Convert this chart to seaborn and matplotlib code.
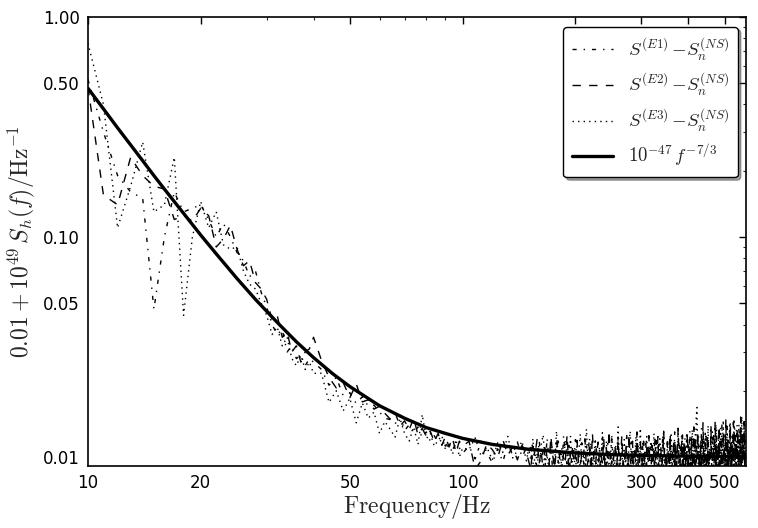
import numpy as np
import pandas as pd
import matplotlib
matplotlib.use('Agg')
import matplotlib.pyplot as plt
import seaborn as sns
from matplotlib.ticker import FixedLocator, FixedFormatter, LogLocator, NullFormatter

# frequency grids (Hz)
f_low = np.arange(10, 41, 1)
f_mid = np.arange(42, 101, 2)
f_high = np.arange(104, 150, 4)
f_dense = np.arange(150, 300, 2)
f_top = np.arange(300, 569, 2)

# S^(E1) - S_n^(NS) (mid/high/dense/top in units of 1e-4)
e1_low = [0.52, 0.30, 0.19, 0.16, 0.15, 0.047, 0.10, 0.16, 0.13, 0.135, 0.14, 0.12, 0.10, 0.115, 0.10, 0.085,
          0.078, 0.066, 0.070, 0.056, 0.048, 0.040, 0.036, 0.038, 0.030, 0.032, 0.028, 0.029, 0.026, 0.028, 0.027]
e1_mid = [250, 212, 230, 190, 196, 175, 188, 170, 172, 160, 150, 148, 141, 155, 132,
          140, 128, 137, 122, 130, 118, 125, 116, 120, 112, 119, 108, 115, 110, 104]
e1_high = [112, 98, 118, 105, 94, 109, 95, 114, 103, 117, 100, 110]
e1_dense = [101, 115, 92, 108, 87, 119, 99, 106, 90, 122, 97, 111, 86, 104, 117,
            94, 109, 88, 125, 100, 93, 113, 85, 107, 98, 120, 91, 103, 89, 116,
            96, 84, 112, 102, 123, 90, 99, 87, 118, 105, 92, 110, 86, 127, 97,
            104, 89, 115, 94, 83, 121, 100, 91, 108, 86, 124, 98, 93, 114, 88,
            106, 95, 129, 87, 101, 84, 117, 96, 90, 111, 85, 122, 99, 92, 109]
e1_top = [96, 112, 88, 104, 120, 91, 99, 85, 115, 102, 93, 108, 87, 124, 97,
          90, 106, 118, 86, 101, 95, 127, 89, 110, 98, 84, 116, 103, 92, 121,
          99, 87, 113, 94, 130, 88, 105, 96, 83, 119, 101, 91, 126, 86, 108,
          95, 122, 89, 103, 85, 117, 98, 132, 90, 107, 84, 114, 100, 93, 128,
          87, 111, 97, 124, 83, 106, 91, 136, 99, 88, 118, 94, 85, 129, 102,
          92, 121, 86, 109, 98, 140, 89, 104, 82, 125, 96, 113, 87, 134, 100,
          90, 117, 84, 128, 101, 93, 142, 88, 110, 97, 83, 131, 105, 91, 138,
          86, 119, 99, 82, 145, 94, 108, 89, 127, 102, 85, 136, 96, 114, 88,
          141, 93, 105, 84, 130, 98, 87, 148, 101, 90, 122, 95, 139, 86, 126]

# S^(E2) - S_n^(NS)
e2_low = [0.48, 0.155, 0.14, 0.23, 0.19, 0.17, 0.165, 0.12, 0.125, 0.118, 0.135, 0.125, 0.090, 0.098, 0.113, 0.088,
          0.074, 0.078, 0.062, 0.058, 0.052, 0.042, 0.044, 0.035, 0.037, 0.030, 0.032, 0.027, 0.030, 0.031, 0.035]
e2_mid = [275, 230, 206, 218, 186, 215, 178, 182, 165, 170, 158, 149, 160, 138, 146,
          133, 150, 126, 135, 124, 131, 117, 128, 113, 124, 111, 121, 105, 118, 112]
e2_high = [118, 88, 96, 115, 108, 99, 120, 102, 111, 97, 113, 104]
e2_dense = [96, 88, 112, 103, 120, 93, 107, 86, 115, 99, 91, 124, 101, 89, 110,
            118, 94, 85, 106, 97, 126, 90, 102, 113, 87, 99, 119, 92, 84, 108,
            100, 121, 89, 95, 111, 86, 128, 98, 91, 105, 117, 88, 103, 94, 122,
            85, 110, 99, 132, 90, 96, 84, 114, 107, 92, 120, 87, 101, 125, 95,
            89, 113, 104, 86, 127, 97, 91, 118, 84, 106, 99, 130, 93, 88, 115]
e2_top = [105, 89, 118, 95, 86, 110, 101, 125, 92, 84, 113, 98, 106, 88, 119,
          100, 124, 87, 96, 112, 85, 104, 131, 93, 99, 83, 117, 108, 90, 128,
          86, 103, 97, 121, 89, 114, 84, 107, 135, 95, 88, 111, 99, 126, 91,
          118, 85, 100, 94, 129, 87, 109, 96, 83, 123, 102, 90, 137, 97, 86,
          112, 98, 131, 84, 105, 92, 120, 88, 101, 143, 95, 86, 116, 103, 89,
          127, 93, 83, 110, 100, 134, 87, 97, 122, 85, 106, 146, 91, 99, 115,
          88, 104, 139, 94, 86, 118, 101, 83, 129, 96, 110, 89, 150, 98, 92,
          121, 85, 107, 97, 138, 90, 84, 116, 103, 144, 93, 87, 125, 99, 109,
          88, 133, 96, 84, 119, 105, 152, 91, 98, 127, 86, 111, 145, 94, 104]

# S^(E3) - S_n^(NS)
e3_low = [0.76, 0.40, 0.11, 0.17, 0.27, 0.13, 0.14, 0.23, 0.044, 0.10, 0.145, 0.11, 0.13, 0.092, 0.088, 0.090,
          0.070, 0.061, 0.058, 0.050, 0.044, 0.036, 0.039, 0.032, 0.035, 0.028, 0.026, 0.029, 0.025, 0.027, 0.024]
e3_mid = [240, 177, 200, 162, 185, 143, 176, 150, 160, 128, 145, 134, 123, 150, 128,
          118, 137, 114, 156, 121, 128, 112, 119, 125, 108, 116, 103, 120, 100, 110]
e3_high = [108, 122, 101, 111, 97, 116, 105, 124, 99, 107, 118, 96]
e3_dense = [109, 97, 121, 90, 104, 86, 113, 126, 95, 101, 88, 117, 106, 92, 131,
            99, 85, 110, 96, 119, 103, 89, 124, 94, 107, 84, 115, 100, 127, 91,
            87, 105, 134, 93, 98, 116, 88, 102, 121, 85, 96, 111, 90, 129, 104,
            92, 118, 86, 107, 99, 125, 95, 84, 113, 101, 137, 89, 97, 110, 86,
            120, 93, 103, 88, 116, 131, 94, 85, 108, 99, 124, 90, 112, 96, 135]
e3_top = [92, 115, 101, 87, 109, 124, 94, 99, 86, 118, 105, 91, 128, 97, 84,
          111, 96, 89, 121, 103, 85, 114, 132, 93, 100, 87, 119, 98, 106, 90,
          126, 88, 102, 95, 117, 84, 108, 99, 137, 91, 86, 113, 104, 123, 89,
          97, 110, 85, 129, 93, 101, 88, 116, 107, 84, 133, 95, 99, 120, 87,
          150, 168, 104, 86, 112, 97, 84, 125, 100, 93, 117, 88, 131, 96, 105,
          91, 139, 86, 108, 97, 119, 101, 130, 89, 97, 112, 84, 141, 99, 106,
          88, 124, 95, 83, 135, 102, 90, 116, 147, 93, 85, 121, 104, 98, 138,
          87, 110, 96, 143, 89, 118, 84, 127, 101, 92, 149, 95, 106, 86, 132,
          99, 121, 88, 140, 94, 85, 128, 104, 153, 90, 113, 97, 136, 87, 144]

# 10^-47 f^-7/3 curve (plus offset)
f_fit = [10, 11, 12, 13, 14, 15, 16, 18, 20, 22, 25, 28, 32, 36, 40, 45, 50, 60, 70, 80,
         90, 100, 120, 150, 200, 250, 300, 400, 500, 570]
s_fit = [0.474, 0.382, 0.313, 0.262, 0.222, 0.190, 0.165, 0.128, 0.102, 0.0838, 0.0647, 0.052,
         0.0409, 0.0334, 0.0283, 0.0239, 0.0209, 0.0171, 0.0150, 0.0136, 0.0128, 0.01215,
         0.01141, 0.01084, 0.01043, 0.01025, 0.01017, 0.01009, 0.01005, 0.01004]

labels = [r'$S^{(E1)}\,{-}S_n^{(NS)}$', r'$S^{(E2)}\,{-}S_n^{(NS)}$',
          r'$S^{(E3)}\,{-}S_n^{(NS)}$', r'$10^{-47}\,f^{-7/3}$']

def series(lo, mid, hi, dense, top):
    f = np.concatenate([f_low, f_mid, f_high, f_dense, f_top])
    rest = np.concatenate([mid, hi, dense, top]) * 1e-4
    return pd.DataFrame({'f': f, 'S': np.concatenate([lo, rest])})

sns.set_style('white')
plt.rcParams['mathtext.fontset'] = 'cm'
plt.rcParams['xtick.direction'] = 'in'
plt.rcParams['ytick.direction'] = 'in'
plt.rcParams['xtick.top'] = True
plt.rcParams['ytick.right'] = True
plt.rcParams['lines.dashed_pattern'] = [6, 6]
plt.rcParams['lines.dashdot_pattern'] = [3, 5, 1, 5]
plt.rcParams['lines.dotted_pattern'] = [1, 3]

fig = plt.figure(figsize=(7.58, 5.28), dpi=100)
ax = fig.add_axes([0.116, 0.1174, 0.868, 0.8506])

sets = [(e1_low, e1_mid, e1_high, e1_dense, e1_top),
        (e2_low, e2_mid, e2_high, e2_dense, e2_top),
        (e3_low, e3_mid, e3_high, e3_dense, e3_top)]
for parts, ls, lab in zip(sets, ['-.', '--', ':'], labels[:3]):
    sns.lineplot(data=series(*parts), x='f', y='S', ax=ax, color='black', linestyle=ls,
                 linewidth=1.0, label=lab, sort=False, estimator=None)
sns.lineplot(x=f_fit, y=s_fit, ax=ax, color='black', linewidth=2.4, label=labels[3],
             sort=False, estimator=None)

ax.set_xscale('log')
ax.set_yscale('log')
ax.set_xlim(10, 570)
ax.set_ylim(0.0091, 1.0)

xt = [10, 20, 50, 100, 200, 300, 400, 500]
yt = [0.01, 0.05, 0.1, 0.5, 1.0]
ax.xaxis.set_major_locator(FixedLocator(xt))
ax.xaxis.set_major_formatter(FixedFormatter([str(v) for v in xt]))
ax.yaxis.set_major_locator(FixedLocator(yt))
ax.yaxis.set_major_formatter(FixedFormatter(['%.2f' % v for v in yt]))
ax.xaxis.set_minor_locator(LogLocator(base=10, subs=np.arange(2, 10)))
ax.yaxis.set_minor_locator(LogLocator(base=10, subs=np.arange(2, 10)))
ax.xaxis.set_minor_formatter(NullFormatter())
ax.yaxis.set_minor_formatter(NullFormatter())
ax.tick_params(which='major', length=5, width=1, labelsize=12, colors='black', pad=6)
ax.tick_params(which='minor', length=2.5, width=0.8)
for sp in ax.spines.values():
    sp.set_color('black')
    sp.set_linewidth(1.2)

ax.set_xlabel(r'$\mathrm{Frequency/Hz}$', fontsize=17, labelpad=0)
ax.set_ylabel(r'$0.01+10^{49}\,S_h(f)/\mathrm{Hz}^{-1}$', fontsize=17, labelpad=4)

leg = ax.legend(loc='upper right', fontsize=13.5, fancybox=True, shadow=True, handlelength=2.2,
                labelspacing=0.45, borderpad=0.45, framealpha=1, borderaxespad=0,
                bbox_to_anchor=(0.988, 0.978))
leg.get_frame().set_edgecolor('black')
leg.get_frame().set_linewidth(1.0)

fig.savefig('out.png', dpi=100)
